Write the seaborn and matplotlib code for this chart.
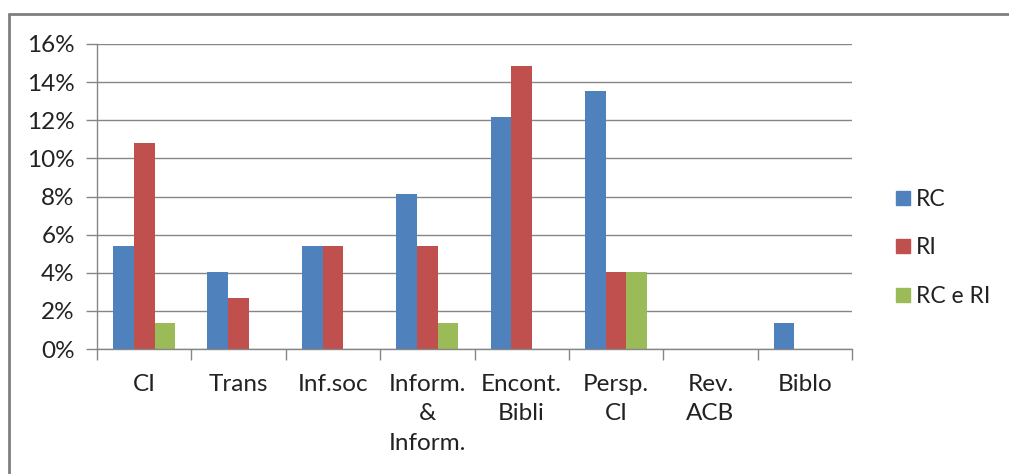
import pandas as pd
import matplotlib
matplotlib.use("Agg")
import matplotlib.pyplot as plt
import seaborn as sns
from matplotlib.lines import Line2D
from matplotlib.ticker import FixedLocator, PercentFormatter

# ---------------- Data ----------------
categories = ["CI", "Trans", "Inf.soc", "Inform.\n&\nInform.", "Encont.\nBibli",
              "Persp.\nCI", "Rev.\nACB", "Biblo"]
series = ["RC", "RI", "RC e RI"]
rc = [5.41, 4.05, 5.41, 8.11, 12.16, 13.51, 0.0, 1.35]
ri = [10.81, 2.70, 5.41, 5.41, 14.86, 4.05, 0.0, 0.0]
rc_ri = [1.35, 0.0, 0.0, 1.35, 0.0, 4.05, 0.0, 0.0]
colors = ["#4F81BD", "#C0504D", "#9BBB59"]

df = pd.DataFrame({"Categoria": categories, "RC": rc, "RI": ri, "RC e RI": rc_ri})
long_df = df.melt(id_vars="Categoria", var_name="Serie", value_name="Valor")

# ---------------- Plot ----------------
sns.set_style("white")
plt.rcParams["font.family"] = ["Lato", "DejaVu Sans"]

fig = plt.figure(figsize=(10.09, 4.74), dpi=100)
ax = fig.add_axes([97 / 1009, 1 - 349 / 474, (852 - 97) / 1009, (349 - 44) / 474])

sns.barplot(data=long_df, x="Categoria", y="Valor", hue="Serie", hue_order=series,
            order=categories, palette=colors, width=0.66, gap=0, saturation=1,
            edgecolor="none", linewidth=0, ax=ax)

grid_c = "#868686"
txt_c = "#222222"
fs = 17.5
ax.set_xlim(-0.5, len(categories) - 0.5)
ax.set_ylim(0, 16)
ax.set_yticks(range(0, 17, 2))
ax.yaxis.set_major_formatter(PercentFormatter(decimals=0))
ax.yaxis.grid(True, color=grid_c, linewidth=1)
ax.set_axisbelow(True)

# category boundaries as major ticks, labels on minor ticks
ax.xaxis.set_major_locator(FixedLocator([i - 0.5 for i in range(len(categories) + 1)]))
ax.xaxis.set_minor_locator(FixedLocator(range(len(categories))))
ax.set_xticklabels([], minor=False)
ax.set_xticklabels(categories, minor=True, linespacing=1.5, va="top")
ax.tick_params(axis="x", which="major", length=8, width=1, color=grid_c, direction="out", bottom=True)
ax.tick_params(axis="x", which="minor", length=0, pad=18, labelsize=fs, labelcolor=txt_c)
ax.tick_params(axis="y", length=8, width=1, color=grid_c, direction="out", left=True,
               labelsize=fs, labelcolor=txt_c, pad=8)

for s in ["top", "right"]:
    ax.spines[s].set_visible(False)
for s in ["left", "bottom"]:
    ax.spines[s].set_color(grid_c)
    ax.spines[s].set_linewidth(1)

ax.set_xlabel("")
ax.set_ylabel("")

handles = [Line2D([], [], marker="s", linestyle="", markersize=10, markerfacecolor=c,
                  markeredgecolor=c) for c in colors]
leg = ax.legend(handles, series, loc="center left", bbox_to_anchor=(872 / 1009, 1 - 248 / 474),
                bbox_transform=fig.transFigure, frameon=False, fontsize=16.5,
                labelspacing=1.2, handletextpad=0.1, handlelength=0.9)
for t in leg.get_texts():
    t.set_color(txt_c)

# outer chart border (top and left visible)
fig.add_artist(Line2D([9 / 1009, 1.0], [1 - 14 / 474, 1 - 14 / 474], color="#7f7f7f",
                      linewidth=2, transform=fig.transFigure))
fig.add_artist(Line2D([9 / 1009, 9 / 1009], [0, 1 - 14 / 474], color="#7f7f7f",
                      linewidth=2, transform=fig.transFigure))

fig.savefig("out.png", dpi=100)
